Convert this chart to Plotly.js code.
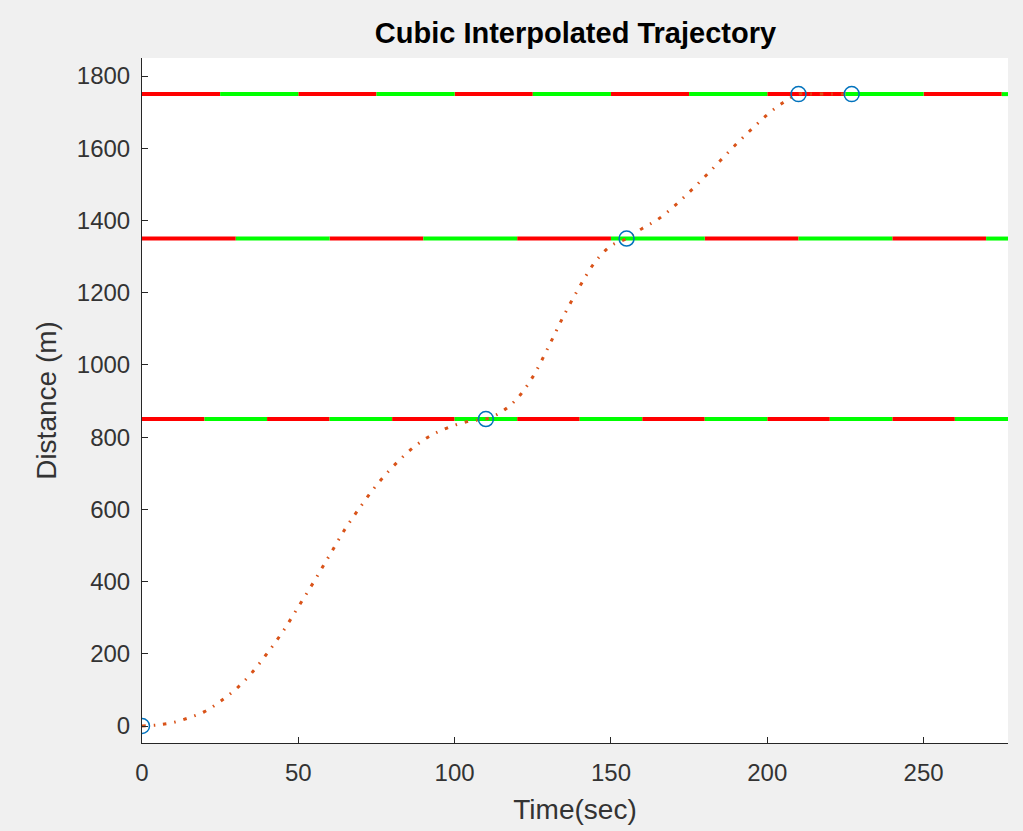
<!DOCTYPE html>
<html>
<head>
<meta charset="utf-8">
<script src="https://cdn.plot.ly/plotly-3.0.1.min.js"></script>
<style>
html,body{margin:0;padding:0;background:#f0f0f0;}
#chart{width:1023px;height:831px;}
</style>
</head>
<body>
<div id="chart"></div>
<script>
// Trajectory samples (time in s, distance in m)
const timeSec = [0,5,10,15,20,25,30,35,40,45,50,55,60,65,70,75,80,85,90,95,100,105,110,115,120,125,130,135,140,145,150,155,160,165,170,175,180,185,190,195,200,205,210,215,220,225,227];
const distM = [0,3,10,23,40,68,102,146,201,261,330,400,473,546,609,667,716,758,792,816,833,845,850,870,907,967,1050,1138,1217,1286,1330,1350,1378,1403,1438,1478,1521,1566,1611,1653,1693,1726,1750,1750,1750,1750,1750];

// Waypoints
const wpTime = [0,110,155,210,227];
const wpDist = [0,850,1350,1750,1750];

// Traffic signals: position (m) and half-cycle (s), red first
const sigPos = [850,1350,1750];
const sigHalf = [20,30,25];
const sigEnd = 280;

const traces = [];
sigPos.forEach((p,i)=>{
  const h = sigHalf[i];
  const rx=[],ry=[],gx=[],gy=[];
  let k=0;
  for(let t=0;t<sigEnd;t+=h,k++){
    const te=Math.min(t+h,sigEnd);
    const X = (k%2===0)?rx:gx, Y=(k%2===0)?ry:gy;
    X.push(t,te,null); Y.push(p,p,null);
  }
  traces.push({x:rx,y:ry,mode:'lines',line:{color:'#ff0000',width:4},hoverinfo:'skip',showlegend:false});
  traces.push({x:gx,y:gy,mode:'lines',line:{color:'#00ff00',width:4},hoverinfo:'skip',showlegend:false});
});

traces.push({x:timeSec,y:distM,mode:'lines',line:{color:'#D95319',width:3,dash:'3.5px,8px,1.5px,8px',shape:'spline'},showlegend:false});
traces.push({x:wpTime,y:wpDist,mode:'markers',marker:{symbol:'circle-open',size:15,color:'#0072BD',line:{width:1.5,color:'#0072BD'}},showlegend:false});

const fam = 'Liberation Sans, Arial, sans-serif';
const axisFont = {family:fam,size:24,color:'#333333'};
const layout = {
  width:1023,height:831,
  paper_bgcolor:'#f0f0f0',plot_bgcolor:'#ffffff',
  margin:{l:142,r:15,t:58,b:88},
  title:{text:'<b>Cubic Interpolated Trajectory</b>',x:0.5625,xanchor:'center',y:0.96,yanchor:'middle',font:{family:fam,size:29,color:'#000'}},
  xaxis:{range:[0,277],tickvals:[0,50,100,150,200,250],ticks:'inside',ticklen:6,tickcolor:'#262626',showline:true,linecolor:'#262626',linewidth:1,showgrid:false,zeroline:false,tickfont:axisFont,ticklabelstandoff:8,
    title:{text:'Time(sec)',font:{family:fam,size:28,color:'#333333'},standoff:14}},
  yaxis:{range:[-47,1850],tickvals:[0,200,400,600,800,1000,1200,1400,1600,1800],ticks:'inside',ticklen:6,tickcolor:'#262626',showline:true,linecolor:'#262626',linewidth:1,showgrid:false,zeroline:false,tickfont:axisFont,ticklabelstandoff:6,
    title:{text:'Distance (m)',font:{family:fam,size:28,color:'#333333'},standoff:12}},
};
Plotly.newPlot('chart',traces,layout,{displayModeBar:false,staticPlot:true});
</script>
</body>
</html>
